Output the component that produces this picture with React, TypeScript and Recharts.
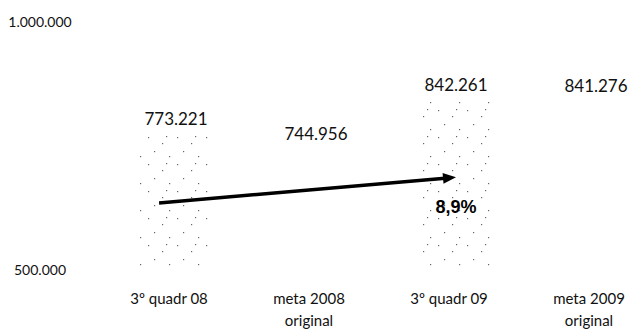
import { BarChart, Bar, XAxis, YAxis, LabelList, ReferenceLine, ReferenceDot, Cell } from "recharts"

const categories = ["3º quadr 08", "meta 2008\noriginal", "3º quadr 09", "meta 2009\noriginal"]
const values = [773221, 744956, 842261, 841276]
const dotted = [true, false, true, false]
const yTicks = [500000, 1000000]
const arrowFrom = 638000
const arrowTo = 687000
const growthLabelY = 627000

const FONT = "Lato, 'Liberation Sans', sans-serif"

const fmt = (v: number) => String(Math.round(v)).replace(/\B(?=(\d{3})+(?!\d))/g, ".")

const data = categories.map((name, i) => ({ name, value: values[i] }))
const growth = ((values[2] / values[0] - 1) * 100).toFixed(1).replace(".", ",") + "%"

function YTick({ y, payload }: any) {
  return (
    <text x={40} y={y} dy={5} textAnchor="middle" fontSize={14} fontFamily={FONT} fill="#111">
      {fmt(payload.value)}
    </text>
  )
}

function XTick({ x, y, payload }: any) {
  const lines = String(payload.value).split("\n")
  return (
    <text x={x - 7} y={y} textAnchor="middle" fontSize={15} fontFamily={FONT} fill="#111">
      {lines.map((l, i) => (
        <tspan key={i} x={x - 7} dy={i === 0 ? 34 : 22}>{l}</tspan>
      ))}
    </text>
  )
}

function Arrow(props: any) {
  const { x1, y1, x2, y2 } = props
  const dx = x2 - x1
  const dy = y2 - y1
  const len = Math.sqrt(dx * dx + dy * dy)
  const ux = dx / len
  const uy = dy / len
  const sx = x1 - ux * 17
  const sy = y1 - uy * 17
  const head = 13
  const half = 5.5
  const bx = x2 - ux * head
  const by = y2 - uy * head
  return (
    <g>
      <line x1={sx} y1={sy} x2={bx + ux * 2} y2={by + uy * 2} stroke="#000" strokeWidth={3.5} />
      <polygon
        points={`${x2},${y2} ${bx - uy * half},${by + ux * half} ${bx + uy * half},${by - ux * half}`}
        fill="#000"
      />
    </g>
  )
}

export default function App() {
  return (
    <div style={{ position: "absolute", left: 0, top: 0, width: 634, height: 335, overflow: "hidden", background: "#fff" }}>
      <BarChart width={666} height={335} data={data} margin={{ top: 22, right: 0, bottom: 0, left: 0 }} barCategoryGap={34}>
        <defs>
          <pattern id="speckle" width="29" height="27" patternUnits="userSpaceOnUse">
            <rect x="3" y="2" width="1.2" height="1.2" fill="#666" />
            <rect x="17" y="8" width="1.2" height="1.2" fill="#666" />
            <rect x="9" y="16" width="1.2" height="1.2" fill="#666" />
            <rect x="24" y="21" width="1.2" height="1.2" fill="#666" />
            <rect x="21" y="1" width="1.2" height="1.2" fill="#666" />
          </pattern>
        </defs>
        <XAxis dataKey="name" axisLine={false} tickLine={false} tickSize={0} tickMargin={0} height={65} interval={0} tick={<XTick />} />
        <YAxis domain={[500000, 1000000]} ticks={yTicks} axisLine={false} tickLine={false} width={106} tick={<YTick />} />
        <Bar dataKey="value" isAnimationActive={false}>
          {data.map((d, i) => (
            <Cell key={d.name} fill={dotted[i] ? "url(#speckle)" : "#fff"} />
          ))}
          <LabelList dataKey="value" position="top" offset={9} formatter={(v: any) => fmt(Number(v))} style={{ fontSize: 17, fontFamily: FONT, fill: "#111" }} />
        </Bar>
        <ReferenceLine
          segment={[{ x: categories[0], y: arrowFrom }, { x: categories[2], y: arrowTo }]}
          shape={<Arrow />}
        />
        <ReferenceDot
          x={categories[2]}
          y={growthLabelY}
          r={0}
          fill="none"
          stroke="none"
          label={{ value: growth, position: "center", fontSize: 18, fontWeight: 700, fontFamily: "'Liberation Sans', sans-serif", fill: "#000" }}
        />
      </BarChart>
    </div>
  )
}
